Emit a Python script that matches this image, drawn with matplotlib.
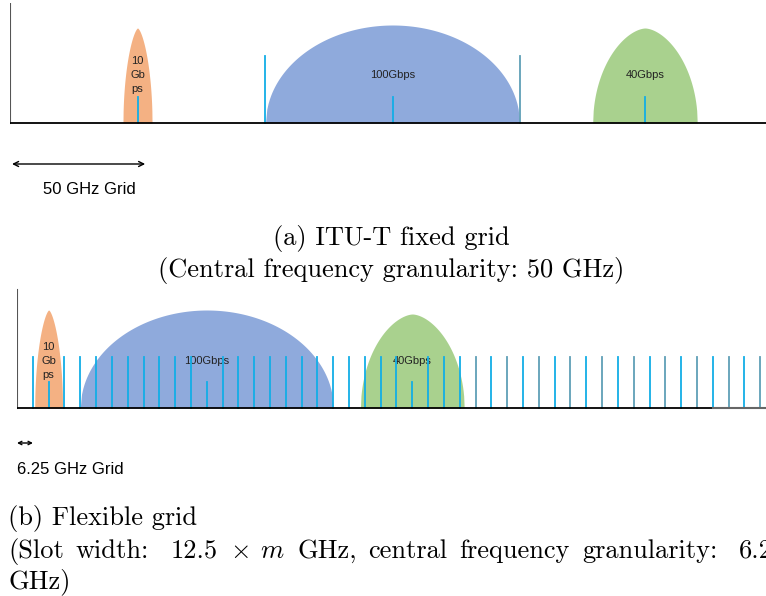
import numpy as np
import matplotlib.pyplot as plt

plt.rcParams['mathtext.fontset'] = 'cm'

# channels (centre GHz, width GHz, height, label)
fixed_centres = [50, 150, 249]
fixed_widths = [11.4, 99.6, 41]
fixed_heights = [95, 98, 95]
flex_centres = [12.5, 75, 156.25]
flex_widths = [11, 100, 41]
flex_heights = [98, 98, 94]
labels = ['10\nGb\nps', '100Gbps', '40Gbps']
colors = ['#f4b183', '#8faadc', '#a9d18e']
shape_p = [1.5, 2.0, 1.7]

fixed_edges = [100, 200]
flex_step = 6.25
flex_count = 47

# justified caption line (words are spread like a LaTeX justified line)
caption_words = ['(Slot', 'width:', '12.5', '$\\times$', '$m$', 'GHz,', 'central',
                 'frequency', 'granularity:', '6.25']

cyan = '#12aee6'
steel = '#5f9fb6'


def bell(c, w, h, p):
    t = np.linspace(-1, 1, 200)
    y = h * np.clip(1 - np.abs(t) ** p, 0, None) ** 0.5
    return c + t * w / 2, y


fig = plt.figure(figsize=(7.66, 5.96), dpi=100)

# (a) fixed grid
ax1 = fig.add_axes([10 / 766, 1 - 200 / 596, 756 / 766, 197 / 596])
ax1.set_xlim(0, 756 / 2.55)
ax1.set_ylim(-77, 120)
ax1.axis('off')
for c, w, h, lab, col, p in zip(fixed_centres, fixed_widths, fixed_heights, labels, colors, shape_p):
    x, y = bell(c, w, h, p)
    ax1.fill_between(x, 0, y, color=col, lw=0, zorder=1)
    ax1.text(c, 48, lab, ha='center', va='center', fontsize=8, family='Liberation Sans',
             color='#222222', linespacing=1.45, zorder=2)
    ax1.plot([c, c], [0, 26], color=cyan, lw=1.3, zorder=3)
ax1.plot([fixed_edges[0]] * 2, [0, 67], color=cyan, lw=1.3, zorder=3)
ax1.plot([fixed_edges[1]] * 2, [0, 67], color=steel, lw=1.3, zorder=3)
ax1.plot([0, 0], [0, 120], color='#555555', lw=1.5, zorder=4)
ax1.plot([0, 756 / 2.55], [0, 0], color='black', lw=1.3, zorder=4)
ax1.annotate('', xy=(0.8, -41), xytext=(53, -41),
             arrowprops=dict(arrowstyle='<->', color='black', lw=1, shrinkA=0, shrinkB=0,
                             mutation_scale=9))
ax1.text(12.9, -67, '50 GHz Grid', ha='left', va='center', fontsize=12, family='Liberation Sans')

# (b) flexible grid
ax2 = fig.add_axes([17 / 766, 1 - 485 / 596, 749 / 766, 197 / 596])
ax2.set_xlim(0, 749 / 2.53)
ax2.set_ylim(-77, 120)
ax2.axis('off')
for c, w, h, lab, col, p in zip(flex_centres, flex_widths, flex_heights, labels, colors, shape_p):
    x, y = bell(c, w, h, p)
    ax2.fill_between(x, 0, y, color=col, lw=0, zorder=1)
    ax2.text(c, 47, lab, ha='center', va='center', fontsize=8, family='Liberation Sans',
             color='#222222', linespacing=1.45, zorder=2)
for k in range(1, flex_count + 1):
    xk = k * flex_step
    short = any(abs(xk - c) < 0.1 for c in flex_centres)
    col = cyan if (k < 29 or k % 2 == 0) else steel
    ax2.plot([xk, xk], [0, 26 if short else 51], color=col, lw=1.3, zorder=3)
ax2.plot([0, 0], [0, 118], color='#555555', lw=1.5, zorder=4)
ax2.plot([0, 275], [0, 0], color='black', lw=1.3, zorder=4)
ax2.plot([275, 749 / 2.53], [0, 0], color='#666666', lw=1.5, zorder=4)
ax2.annotate('', xy=(0, -35), xytext=(6.3, -35),
             arrowprops=dict(arrowstyle='<->', color='black', lw=1, shrinkA=0, shrinkB=0,
                             mutation_scale=6))
ax2.text(0, -62, '6.25 GHz Grid', ha='left', va='center', fontsize=12, family='Liberation Sans')

# captions
cap = dict(fontsize=19, family='cmr10')
fig.text(391.5 / 766, 1 - 238 / 596, '(a) ITU-T fixed grid', ha='center', va='center', **cap)
fig.text(391.5 / 766, 1 - 270 / 596, '(Central frequency granularity: 50 GHz)',
         ha='center', va='center', **cap)
fig.text(8 / 766, 1 - 519 / 596, '(b) Flexible grid', ha='left', va='center', **cap)

renderer = fig.canvas.get_renderer()
xp = 8
for word in caption_words:
    t = fig.text(xp / 766, 1 - 558 / 596, word, ha='left', va='baseline', **cap)
    bb = t.get_window_extent(renderer=renderer)
    xp = bb.x1 + (21.5 if word.endswith(':') else 12)

fig.text(8 / 766, 1 - 582 / 596, 'GHz)', ha='left', va='center', **cap)

fig.savefig('out.png', dpi=100)
